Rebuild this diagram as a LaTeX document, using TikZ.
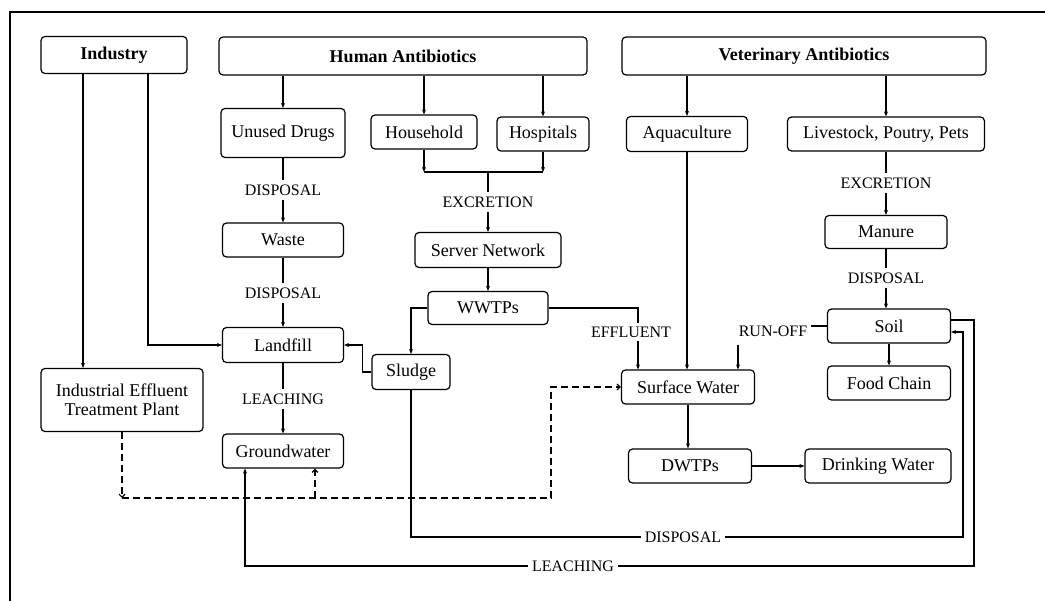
\documentclass[tikz,border=0pt]{standalone}
\usepackage{fontspec}
\setmainfont{Liberation Serif}
\usetikzlibrary{calc}
\usetikzlibrary{arrows.meta}

\tikzset{
  box/.style={draw, rounded corners=4pt, line width=1.2pt, inner sep=2pt, align=center, font=\fontsize{18}{19}\selectfont},
  head/.style={box, font=\fontsize{18}{19}\selectfont\bfseries},
  tag/.style={fill=white, inner sep=4pt, font=\fontsize{16}{18}\selectfont},
  link/.style={line width=1.2pt},
  flow/.style={line width=1.2pt, -{Stealth[length=5pt,width=4pt]}},
  dashflow/.style={line width=1.2pt, dash pattern=on 7pt off 4pt, -{Straight Barb[length=3pt,width=6pt]}}
}

\begin{document}
\begin{tikzpicture}[x=1pt, y=-1pt]
    \useasboundingbox (0,0) rectangle (1045,601);
    \draw[line width=1.5pt] (1045,12) -- (10,12) -- (10,601);

    \node[head, minimum width=146pt, minimum height=37pt] (industry) at (114,55) {Industry};
    \node[head, minimum width=368pt, minimum height=38pt] (human) at (403,56) {Human Antibiotics};
    \node[head, minimum width=364pt, minimum height=38pt] (vet) at (804,56) {Veterinary Antibiotics};

    \node[box, minimum width=124pt, minimum height=49pt] (unused) at (283,133) {Unused Drugs};
    \node[box, minimum width=106pt, minimum height=34pt] (household) at (424,132) {Household};
    \node[box, minimum width=92pt, minimum height=34pt] (hospitals) at (543,134) {Hospitals};
    \node[box, minimum width=121pt, minimum height=35pt] (aqua) at (687,134) {Aquaculture};
    \node[box, minimum width=197pt, minimum height=34pt] (livestock) at (886,134) {Livestock, Poutry, Pets};
    \node[box, minimum width=121pt, minimum height=34pt] (waste) at (283,240) {Waste};
    \node[box, minimum width=146pt, minimum height=35pt] (server) at (488,250) {Server Network};
    \node[box, minimum width=122pt, minimum height=33pt] (manure) at (886,232) {Manure};
    \node[box, minimum width=120pt, minimum height=33pt] (wwtps) at (488,308) {WWTPs};
    \node[box, minimum width=121pt, minimum height=35pt] (landfill) at (283,345) {Landfill};
    \node[box, minimum width=78pt, minimum height=35pt] (sludge) at (411,372) {Sludge};
    \node[box, minimum width=123pt, minimum height=34pt] (soil) at (889,326) {Soil};
    \node[box, minimum width=133pt, minimum height=34pt] (surface) at (688,387) {Surface Water};
    \node[box, minimum width=123pt, minimum height=34pt] (food) at (889,383) {Food Chain};
    \node[box, minimum width=162pt, minimum height=63pt] (ietp) at (122,400) {Industrial Effluent\\Treatment Plant};
    \node[box, minimum width=121pt, minimum height=34pt] (ground) at (283,451) {Groundwater};
    \node[box, minimum width=123pt, minimum height=34pt] (dwtps) at (690,466) {DWTPs};
    \node[box, minimum width=146pt, minimum height=34pt] (drink) at (878,466) {Drinking Water};

    \node[tag] (dis1) at (283,190) {DISPOSAL};
    \node[tag] (dis2) at (283,293) {DISPOSAL};
    \node[tag] (leach1) at (283,399) {LEACHING};
    \node[tag] (excr1) at (488,202) {EXCRETION};
    \node[tag] (excr2) at (886,183) {EXCRETION};
    \node[tag] (dis3) at (886,278) {DISPOSAL};
    \node[tag] (runoff) at (773,331) {RUN-OFF};
    \node[tag] (dis4) at (683,537) {DISPOSAL};
    \node[tag] (leach2) at (573,566) {LEACHING};

    \path (industry.south) ++(-31,0) coordinate (ia);
    \path (industry.south) ++(34,0) coordinate (ib);
    \coordinate (bar) at (488,172);
    \coordinate (ro) at (738,345);
    \coordinate (dl) at (122,498);
    \coordinate (dr) at (551,498);
    \coordinate (gb) at (315,498);
    \coordinate (sr) at (963,537);
    \coordinate (lr) at (974,566);
    \coordinate (gl) at (245,566);

    \draw[flow] (ia) -- (ia |- ietp.north);
    \draw[flow] (ib) |- (landfill.west);

    \draw[flow] (human.south -| unused) -- (unused);
    \draw[flow] (human.south -| household) -- (household);
    \draw[flow] (human.south -| hospitals) -- (hospitals);
    \draw[flow] (household) -- (household |- bar);
    \draw[flow] (hospitals) -- (hospitals |- bar);
    \draw[link] (household |- bar) -- (hospitals |- bar);
    \draw[link] (bar) -- (excr1);
    \draw[flow] (excr1) -- (server);
    \draw[flow] (server) -- (wwtps);

    \draw[link] (unused) -- (dis1);
    \draw[flow] (dis1) -- (waste);
    \draw[link] (waste) -- (dis2);
    \draw[flow] (dis2) -- (landfill);
    \draw[link] (landfill) -- (leach1);
    \draw[flow] (leach1) -- (ground);

    \draw[flow] (wwtps.west) -| (sludge.north);
    \draw[flow] (sludge.west) -- ++(-9,0) |- (landfill.east);
    \draw[flow] (wwtps.east) -| ($(surface.north)+(-50,0)$);
    \node[tag] (effl) at (631,332) {EFFLUENT};

    \draw[flow] (vet.south -| aqua) -- (aqua);
    \draw[flow] (vet.south -| livestock) -- (livestock);
    \draw[flow] (aqua) -- (aqua |- surface.north);
    \draw[link] (livestock) -- (excr2);
    \draw[flow] (excr2) -- (manure);
    \draw[link] (manure) -- (dis3);
    \draw[flow] (dis3) -- (dis3 |- soil.north);
    \draw[flow] (soil) -- (food);
    \draw[link] (soil.west) -- (soil.west -| runoff.east);
    \draw[flow] (ro) -- (ro |- surface.north);
    \draw[flow] (surface) -- (surface |- dwtps.north);
    \draw[flow] (dwtps) -- (drink);

    \draw[dashflow] (ietp.south) -- (dl);
    \draw[dashflow] (dl) -- (dr) |- (surface.west);
    \draw[dashflow] (gb) -- (gb |- ground.south);

    \draw[link] (sludge.south) |- (dis4.west);
    \draw[flow] (dis4.east) -- (sr) |- ($(soil.east)+(0,6)$);
    \draw[link, line width=1.7pt] ($(soil.east)+(0,-6)$) -| (lr) -- (leach2.east);
    \draw[flow] (leach2.west) -- (gl) -- (gl |- ground.south);
\end{tikzpicture}
\end{document}
